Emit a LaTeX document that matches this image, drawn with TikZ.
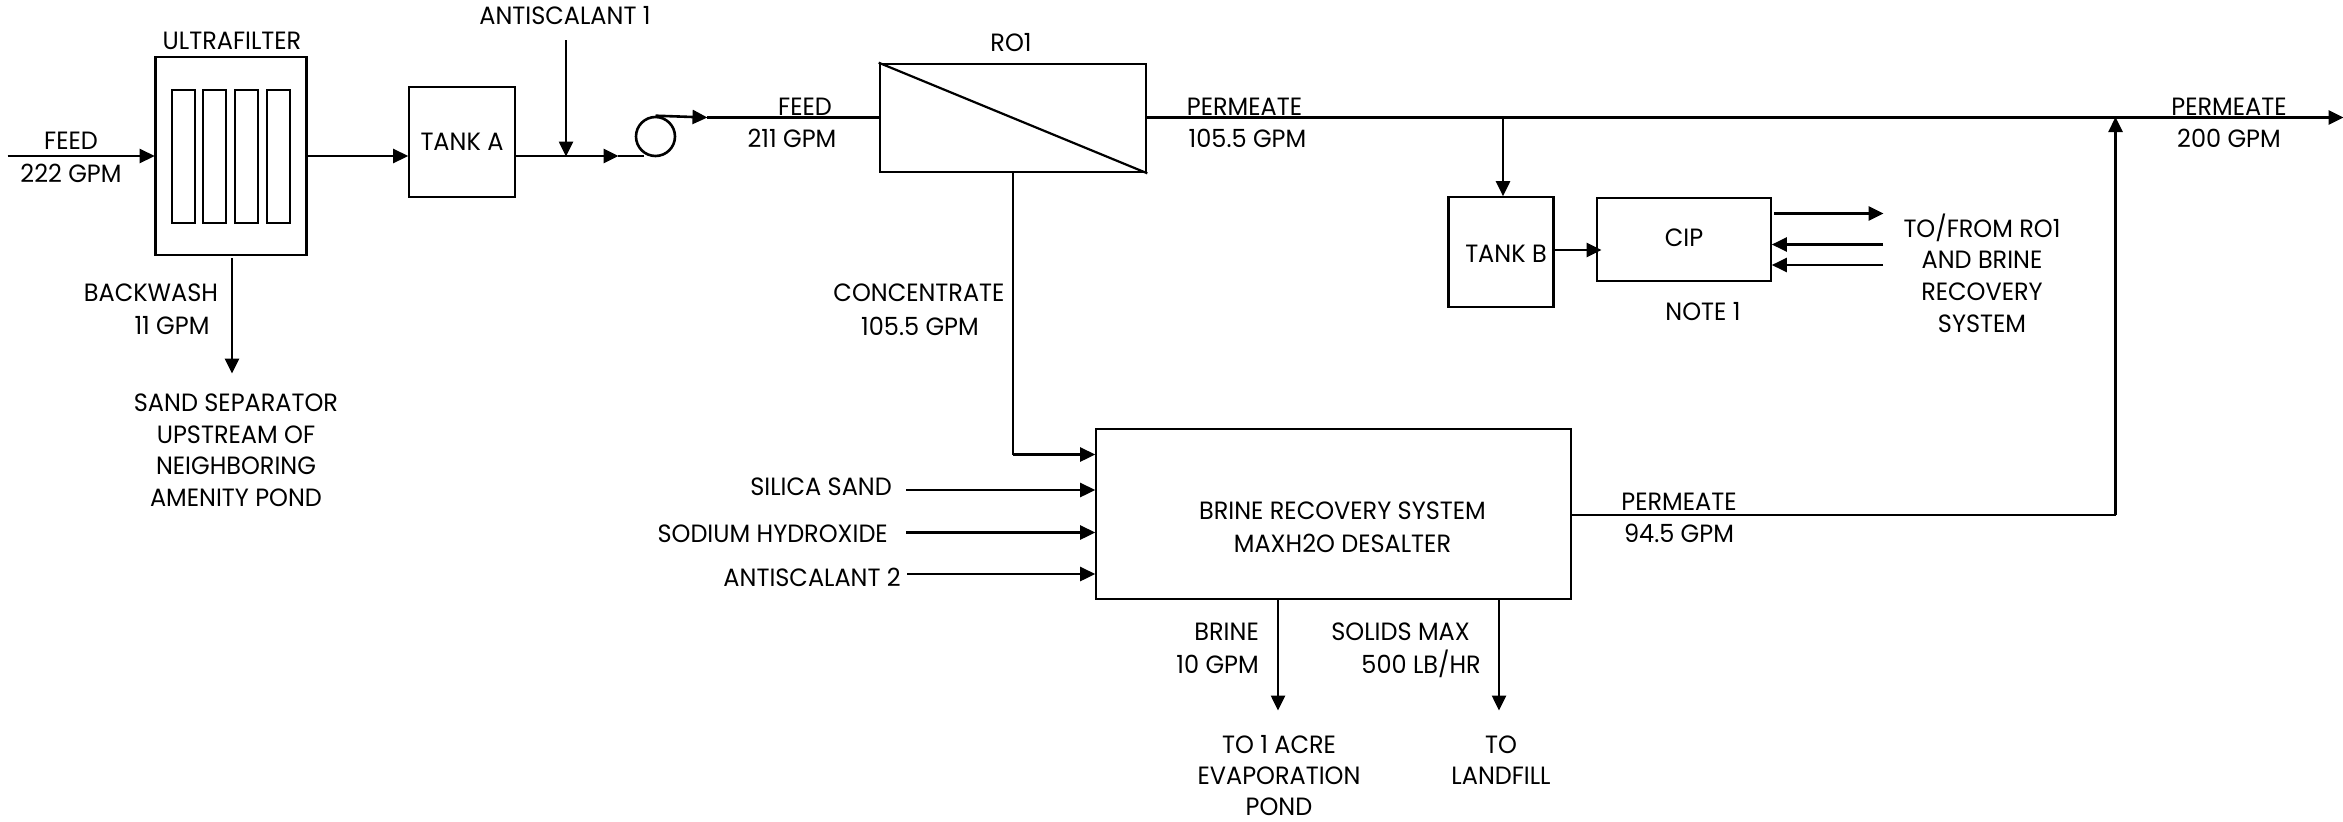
\documentclass[tikz,border=0pt]{standalone}
\usepackage{fontspec}
\setmainfont[FakeStretch=0.96]{Poppins}
\usetikzlibrary{arrows.meta}
\tikzset{
  x=1pt,y=-1pt,
  box/.style={draw,line width=2.6pt,inner sep=0pt,fill=white},
  thin box/.style={draw,line width=2pt,inner sep=0pt,fill=white},
  pipe/.style={line width=2.6pt},
  flow/.style={line width=2.6pt,-{Triangle[length=15pt,width=14pt]},shorten >=-0.5pt},
  lab/.style={inner sep=0pt,font=\fontsize{25}{30}\selectfont,text=black},
}
\begin{document}
\begin{tikzpicture}
\useasboundingbox (0,0) rectangle (2343,822);
% boxes
\node[box,minimum width=151pt,minimum height=198pt] (uf) at (231,156) {};
\node[thin box,minimum width=23pt,minimum height=133pt] (m1) at (183,156) {};
\node[thin box,minimum width=23pt,minimum height=133pt] (m2) at (214,156) {};
\node[thin box,minimum width=23pt,minimum height=133pt] (m3) at (246,156) {};
\node[thin box,minimum width=23pt,minimum height=133pt] (m4) at (278,156) {};
\node[box,minimum width=106pt,minimum height=110pt] (tanka) at (462,142) {};
\node[lab] (tankalab) at (462,142) {TANK A};
\node[box,minimum width=266pt,minimum height=108pt] (ro) at (1013,118) {};
\draw[line width=2.2pt] (ro.north west) -- (ro.south east);
\node[box,minimum width=105pt,minimum height=110pt] (tankb) at (1501,252) {};
\node[lab] (tankblab) at (1506,254) {TANK B};
\node[box,minimum width=174pt,minimum height=83pt] (cip) at (1684,239.5) {};
\node[lab] (ciplab) at (1684,238) {CIP};
\node[box,minimum width=475pt,minimum height=170pt] (brine) at (1333.5,514) {};
\node[lab] (brine1) at (1342.5,511) {BRINE RECOVERY SYSTEM};
\node[lab] (brine2) at (1342.5,543) {MAXH2O DESALTER};
\node[draw,line width=2.6pt,circle,minimum size=39pt,inner sep=0pt] (pump) at (655.5,136.5) {};
% free ends
\coordinate (feedin) at (7.5,156);
\coordinate (a1top) at (566,40);
\coordinate (a1j) at (566,156);
\coordinate (pm1) at (618,156);
\coordinate (pin) at (644,156);
\coordinate (pm2) at (707,117.5);
\coordinate (ro-in) at (ro.west |- pm2);
\coordinate (bwa) at (232,258);
\coordinate (bwb) at (232,373);
\coordinate (roout) at (ro.east |- pm2);
\coordinate (pend) at (2343,117.5);
\coordinate (junb) at (1503,117.5);
\coordinate (junr) at (2115.5,117.5);
\coordinate (bpel) at (2115.5,515);
\coordinate (cona) at (1013,172);
\coordinate (conc) at (1013,454.5);
\coordinate (conb) at (brine.west |- conc);
% connectors
\draw[flow] (feedin) -- (feedin -| uf.west);
\draw[flow] (uf.east |- feedin) -- (tanka.west |- feedin);
\draw[flow] (tanka.east |- feedin) -- (pm1);
\draw[pipe] (pm1) -- (pin);
\draw[flow] (a1top) -- (a1j);
\draw[flow] (pump.north) -- (pm2);
\draw[pipe] (pm2) -- (ro-in);
\draw[flow] (bwa) -- (bwb);
\draw[flow] (roout) -- (pend);
\draw[flow] (junb) -- (junb |- tankb.north);
\coordinate (tbo) at (1554,250);
\coordinate (cipin) at (1601,250);
\draw[flow] (tbo) -- (cipin);
\coordinate (c1a) at (1774,213.5);
\coordinate (c1b) at (1883,213.5);
\coordinate (c2a) at (1883,244.5);
\coordinate (c3a) at (1883,265);
\draw[flow] (c1a) -- (c1b);
\draw[flow] (c2a) -- (c2a -| cip.east);
\draw[flow] (c3a) -- (c3a -| cip.east);
\draw[pipe] (cona) -- (conc);
\draw[flow] (conc) -- (conb);
\coordinate (sil) at (906,490);
\coordinate (sod) at (906,532.5);
\coordinate (ant) at (907,574);
\draw[flow] (sil) -- (sil -| brine.west);
\draw[flow] (sod) -- (sod -| brine.west);
\draw[flow] (ant) -- (ant -| brine.west);
\draw[pipe] (brine.east |- bpel) -- (bpel);
\draw[flow] (bpel) -- (junr);
\coordinate (bra) at (1278,599);
\coordinate (brb) at (1278,710);
\coordinate (soa) at (1499,599);
\coordinate (sob) at (1499,710);
\draw[flow] (bra) -- (brb);
\draw[flow] (soa) -- (sob);
% labels
\node[lab] (t1) at (71,141) {FEED};
\node[lab] (t2) at (71,173) {222 GPM};
\node[lab] (t3) at (232,41) {ULTRAFILTER};
\node[lab] (t4) at (565,16) {ANTISCALANT 1};
\node[lab] (t5) at (805,106.5) {FEED};
\node[lab] (t6) at (792,138) {211 GPM};
\node[lab] (t7) at (1011,43) {RO1};
\node[lab] (t8) at (1244.5,106.5) {PERMEATE};
\node[lab] (t9) at (1247.5,138) {105.5 GPM};
\node[lab] (t10) at (2229,106.5) {PERMEATE};
\node[lab] (t11) at (2229,138) {200 GPM};
\node[lab] (t12) at (151,293) {BACKWASH};
\node[lab] (t13) at (172,326) {11 GPM};
\node[lab] (t14) at (236,403) {SAND SEPARATOR};
\node[lab] (t15) at (236,435) {UPSTREAM OF};
\node[lab] (t16) at (236,466) {NEIGHBORING};
\node[lab] (t17) at (236,498) {AMENITY POND};
\node[lab] (t18) at (919,293) {CONCENTRATE};
\node[lab] (t19) at (920,326) {105.5 GPM};
\node[lab] (t20) at (1703,312) {NOTE 1};
\node[lab] (t21) at (1982,228) {TO/FROM RO1};
\node[lab] (t22) at (1982,260) {AND BRINE};
\node[lab] (t23) at (1982,292) {RECOVERY};
\node[lab] (t24) at (1982,324) {SYSTEM};
\node[lab,anchor=east] (t25) at (892,487) {SILICA SAND};
\node[lab,anchor=east] (t26) at (888,534) {SODIUM HYDROXIDE};
\node[lab,anchor=east] (t27) at (901,577) {ANTISCALANT 2};
\node[lab] (t28) at (1679,502) {PERMEATE};
\node[lab] (t29) at (1679,533) {94.5 GPM};
\node[lab,anchor=east] (t30) at (1259,632) {BRINE};
\node[lab,anchor=east] (t31) at (1259,664) {10 GPM};
\node[lab,anchor=east] (t32) at (1470,632) {SOLIDS MAX};
\node[lab,anchor=east] (t33) at (1481,664) {500 LB/HR};
\node[lab] (t34) at (1279,745) {TO 1 ACRE};
\node[lab] (t35) at (1279,776) {EVAPORATION};
\node[lab] (t36) at (1279,807) {POND};
\node[lab] (t37) at (1501,745) {TO};
\node[lab] (t38) at (1501,776) {LANDFILL};
\end{tikzpicture}
\end{document}
